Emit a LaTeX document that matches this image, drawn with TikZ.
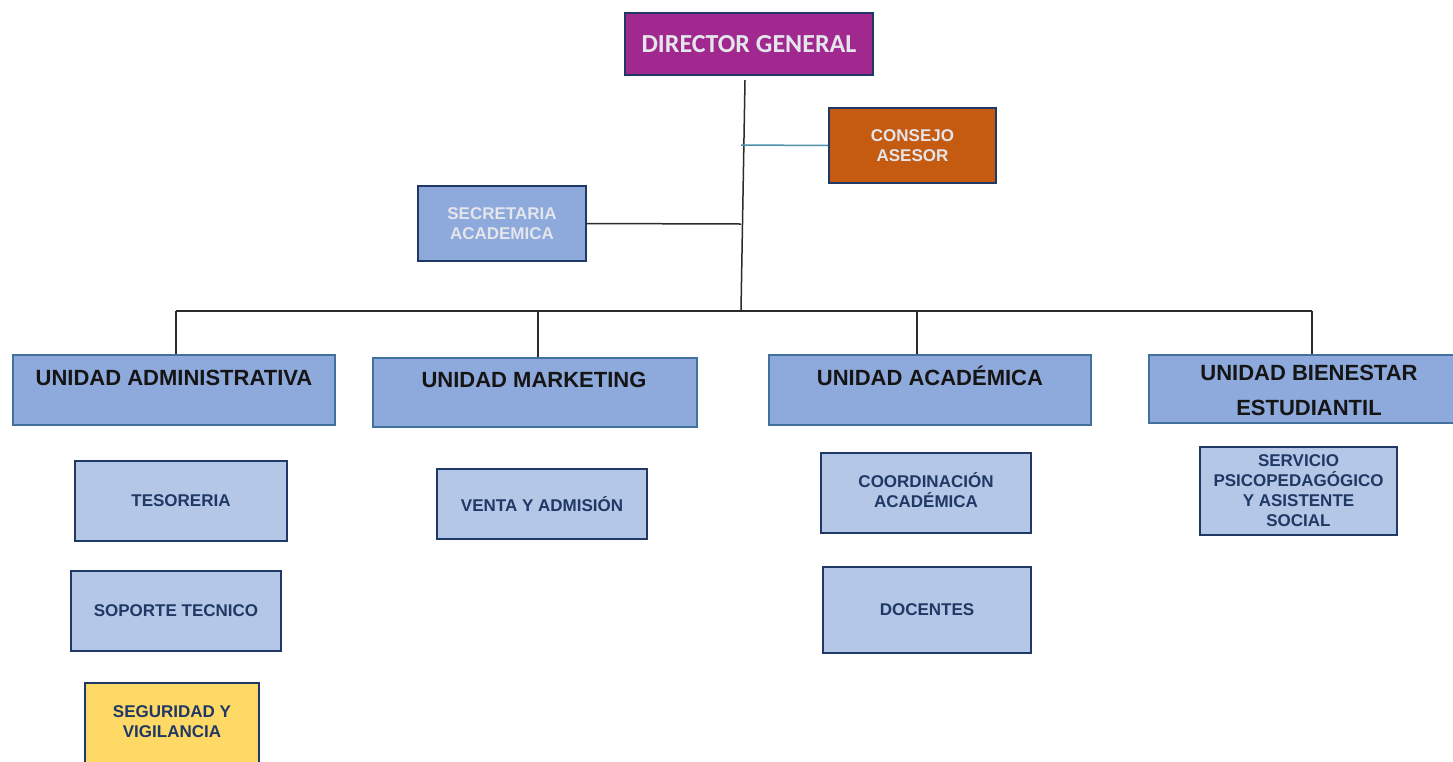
\documentclass[tikz,border=0pt]{standalone}
\usepackage{fontspec}
\setmainfont{Liberation Sans}
\newfontfamily\calfont{Carlito}
\definecolor{navy}{HTML}{1F3864}
\definecolor{dgfill}{HTML}{A0288E}
\definecolor{cafill}{HTML}{C55A11}
\definecolor{unitfill}{HTML}{8EA9DB}
\definecolor{unitborder}{HTML}{41719C}
\definecolor{subfill}{HTML}{B4C7E7}
\definecolor{segfill}{HTML}{FFD966}
\definecolor{linegray}{HTML}{2B2B2B}
\definecolor{tealline}{HTML}{4F8FAE}
\definecolor{lighttext}{HTML}{E4E6EC}
\definecolor{unittext}{HTML}{151515}
\begin{document}
\begin{tikzpicture}[x=1pt,y=-1pt,
  box/.style={draw=navy, line width=1.6pt, inner sep=0pt, align=center},
  sub/.style={box, fill=subfill, text=navy, font=\bfseries\fontsize{17}{20}\selectfont},
  unit/.style={draw=unitborder, line width=1.4pt, fill=unitfill, inner sep=0pt},
  utext/.style={text=unittext, align=center, inner sep=0pt, font=\bfseries\fontsize{22}{35}\selectfont},
  stext/.style={text=navy, align=center, inner sep=0pt, font=\bfseries\fontsize{17}{20}\selectfont},
  conn/.style={draw=linegray, line width=1.5pt},
  tconn/.style={draw=tealline, line width=1.5pt}]
\useasboundingbox (0,0) rectangle (1453,761);
\clip (0,0) rectangle (1453,761);
\fill[white] (0,0) rectangle (1453,761);

% top level
\node[box, fill=dgfill, text=lighttext, minimum width=248pt, minimum height=62pt,
  font=\calfont\bfseries\fontsize{26}{28}\selectfont] (dg) at (749,44) {DIRECTOR GENERAL};
\node[box, fill=cafill, text=lighttext, minimum width=167pt, minimum height=75pt,
  font=\bfseries\fontsize{17}{20}\selectfont] (ca) at (912.5,145.5) {CONSEJO\\ASESOR};
\node[box, fill=unitfill, text=lighttext, minimum width=168pt, minimum height=75pt,
  font=\bfseries\fontsize{17}{20}\selectfont] (sa) at (502,223.5) {SECRETARIA\\ACADEMICA};

% units
\node[unit, minimum width=322pt, minimum height=70pt] (ua) at (174,390) {};
\node[unit, minimum width=324pt, minimum height=69pt] (um) at (535,392.5) {};
\node[unit, minimum width=322pt, minimum height=70pt] (uac) at (930,390) {};
\node[unit, minimum width=330pt, minimum height=68pt] (ub) at (1314,389) {};
\node[utext] (uat) at (174,378) {UNIDAD ADMINISTRATIVA};
\node[utext] (umt) at (534,380) {UNIDAD MARKETING};
\node[utext] (uact) at (930,376) {UNIDAD ACADÉMICA};
\node[utext] (ubt) at (1309,390.5) {UNIDAD BIENESTAR\\ESTUDIANTIL};

% sub units
\node[sub, minimum width=212pt, minimum height=80pt] (tes) at (181,501) {TESORERIA};
\node[sub, minimum width=210pt, minimum height=80pt] (sop) at (176,611) {SOPORTE TECNICO};
\node[box, fill=segfill, minimum width=174pt, minimum height=110pt] (seg) at (172,738) {};
\node[stext] (segt) at (172,722) {SEGURIDAD Y\\VIGILANCIA};
\node[sub, minimum width=210pt, minimum height=70pt] (vya) at (542,504) {VENTA Y ADMISIÓN};
\node[box, fill=subfill, minimum width=210pt, minimum height=80pt] (coo) at (926,493) {};
\node[stext] (coot) at (926,490) {COORDINACIÓN\\ACADÉMICA};
\node[sub, minimum width=208pt, minimum height=86pt] (doc) at (927,610) {DOCENTES};
\node[sub, minimum width=197pt, minimum height=88pt] (ser) at (1298.5,491) {SERVICIO\\PSICOPEDAGÓGICO\\Y ASISTENTE\\SOCIAL};

% connectors
\coordinate (dtop) at (745,80);
\coordinate (dbot) at (741,310);
\coordinate (jca) at (741,145);
\coordinate (jsa) at (741,224);
\coordinate (b1) at (176,311);
\coordinate (b2) at (538,310);
\coordinate (b3) at (917,311);
\coordinate (b4) at (1312,311);
\draw[conn] (dtop) -- (dbot);
\draw[tconn] (jca) -- (ca.west);
\draw[conn] (sa.east) -- (jsa);
\draw[conn] (b1) -- (b4);
\draw[conn] (b1) -- (b1 |- ua.north);
\draw[conn] (b2) -- (b2 |- um.north);
\draw[conn] (b3) -- (b3 |- uac.north);
\draw[conn] (b4) -- (b4 |- ub.north);
\end{tikzpicture}
\end{document}
